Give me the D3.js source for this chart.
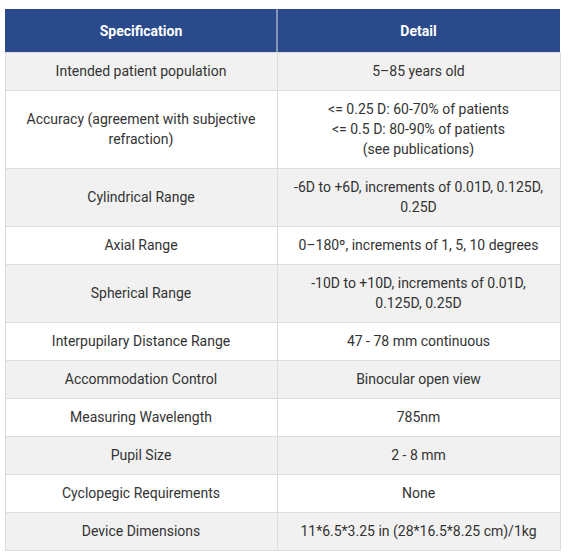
<!DOCTYPE html>
<html><head><meta charset="utf-8">
<script src="https://d3js.org/d3.v7.min.js"></script>
<style>body{margin:0;background:#fff}</style></head>
<body><svg id="c" width="569" height="552"></svg>
<script>
const headers = ["Specification", "Detail"];
const specs = [
 ["Intended patient population"],
 ["Accuracy (agreement with subjective","refraction)"],
 ["Cylindrical Range"],
 ["Axial Range"],
 ["Spherical Range"],
 ["Interpupilary Distance Range"],
 ["Accommodation Control"],
 ["Measuring Wavelength"],
 ["Pupil Size"],
 ["Cyclopegic Requirements"],
 ["Device Dimensions"]
];
const details = [
 ["5–85 years old"],
 ["<= 0.25 D: 60-70% of patients","<= 0.5 D: 80-90% of patients","(see publications)"],
 ["-6D to +6D, increments of 0.01D, 0.125D,","0.25D"],
 ["0–180º, increments of 1, 5, 10 degrees"],
 ["-10D to +10D, increments of 0.01D,","0.125D, 0.25D"],
 ["47 - 78 mm continuous"],
 ["Binocular open view"],
 ["785nm"],
 ["2 - 8 mm"],
 ["None"],
 ["11*6.5*3.25 in (28*16.5*8.25 cm)/1kg"]
];
(function(){
const svg = d3.select("#c");
const L = 5, M = 277, R = 560, T0 = 9, headH = 43, lineH = 20, pad = 18;
const x = d3.scaleOrdinal().domain([0,1]).range([L, M]);
const w = [M-L, R-M];
const hg = svg.append("g");
hg.append("rect").attr("x",L).attr("y",T0).attr("width",R-L).attr("height",headH).attr("fill","#2b4a8c");
hg.append("line").attr("x1",M).attr("x2",M).attr("y1",T0).attr("y2",T0+headH).attr("stroke","#e0e0e0");
headers.forEach((h,i)=>hg.append("text").attr("x",x(i)+w[i]/2).attr("y",T0+headH/2+5)
 .attr("text-anchor","middle").attr("font-family","Roboto").attr("font-weight","bold")
 .attr("font-size",14).attr("fill","#fff").text(h));
let y = T0+headH;
specs.forEach((s,r)=>{
  const n = Math.max(s.length, details[r].length);
  const h = pad + lineH*n;
  const g = svg.append("g");
  [s, details[r]].forEach((lines,i)=>{
    g.append("rect").attr("x",x(i)+0.5).attr("y",y+0.5).attr("width",w[i]).attr("height",h)
     .attr("fill", r%2===0 ? "#f1f1f1" : "#fff").attr("stroke","#dcdcdc");
    const y0 = y + h/2 - (lines.length-1)*lineH/2 + 5;
    lines.forEach((t,k)=>g.append("text").attr("x",x(i)+w[i]/2).attr("y",y0+k*lineH)
      .attr("text-anchor","middle").attr("font-family","Roboto").attr("font-size",14)
      .attr("fill","#333").text(t));
  });
  y += h;
});
})();
</script></body></html>
